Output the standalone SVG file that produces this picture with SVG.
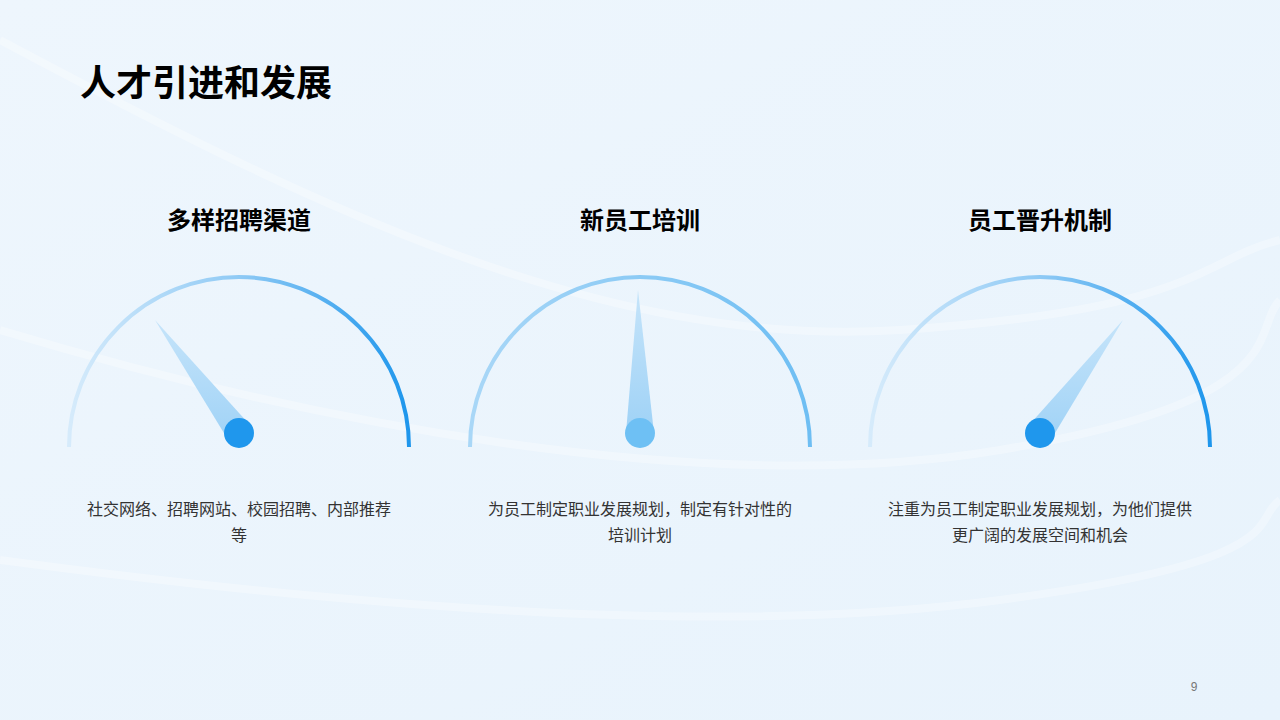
<svg xmlns="http://www.w3.org/2000/svg" width="1280" height="720" viewBox="0 0 1280 720">
<defs>
<linearGradient id="bg" x1="0" y1="0" x2="1" y2="1"><stop offset="0" stop-color="#eef6fd"/><stop offset="1" stop-color="#e8f3fc"/></linearGradient>
<linearGradient id="arc" x1="0" y1="0" x2="1" y2="0"><stop offset="0" stop-color="#d6ebfb"/><stop offset="0.5" stop-color="#8fcaf5"/><stop offset="1" stop-color="#1e96ec"/></linearGradient>
<linearGradient id="arc2" x1="0" y1="0" x2="1" y2="0"><stop offset="0" stop-color="#a9d7f7"/><stop offset="1" stop-color="#6ebef3"/></linearGradient>
<linearGradient id="ndl" x1="0" y1="0" x2="0" y2="1"><stop offset="0" stop-color="#c5e4fa"/><stop offset="1" stop-color="#9fd2f6"/></linearGradient>
<style>
.t{font-family:"Noto Sans CJK SC","Noto Sans",sans-serif;fill:#000}
.h{font-size:24px;font-weight:bold;text-anchor:middle}
.d{font-size:16px;fill:#333;text-anchor:middle}
.a{fill:none;stroke-width:4}
.w{fill:none;stroke:#ffffff;stroke-opacity:.3;stroke-width:8}
</style>
</defs>
<rect width="1280" height="720" fill="url(#bg)"/>
<path class="w" d="M0 40 C300 200 600 350 900 330 S1200 260 1280 240"/>
<path class="w" d="M0 330 C300 420 700 500 1000 450 S1250 330 1280 300"/>
<path class="w" d="M0 560 C300 600 700 640 1000 600 S1250 520 1280 500"/>
<text class="t" x="80" y="96" font-size="36" font-weight="bold">人才引进和发展</text>
<g id="node1">
<text class="t h" x="239" y="229">多样招聘渠道</text>
<path class="a" stroke="url(#arc)" d="M69 447 A170 170 0 0 1 409 447"/>
<polygon points="155,320 230,443 249,424" fill="url(#ndl)"/>
<circle cx="239" cy="433" r="15" fill="#1f97ed"/>
<text class="t d" x="239" y="515">社交网络、招聘网站、校园招聘、内部推荐</text>
<text class="t d" x="239" y="541">等</text>
</g>
<g id="node2">
<text class="t h" x="640" y="229">新员工培训</text>
<path class="a" stroke="url(#arc2)" d="M470 447 A170 170 0 0 1 810 447"/>
<polygon points="638,290 626,433 654,433" fill="url(#ndl)"/>
<circle cx="640" cy="433" r="15" fill="#6ec0f4"/>
<text class="t d" x="640" y="515">为员工制定职业发展规划，制定有针对性的</text>
<text class="t d" x="640" y="541">培训计划</text>
</g>
<g id="node3">
<text class="t h" x="1040" y="229">员工晋升机制</text>
<path class="a" stroke="url(#arc)" d="M870 447 A170 170 0 0 1 1210 447"/>
<polygon points="1123,320 1030,424 1049,443" fill="url(#ndl)"/>
<circle cx="1040" cy="433" r="15" fill="#1f97ed"/>
<text class="t d" x="1040" y="515">注重为员工制定职业发展规划，为他们提供</text>
<text class="t d" x="1040" y="541">更广阔的发展空间和机会</text>
</g>
<g id="connectors"/>
<text x="1194" y="691" font-family="Liberation Sans,sans-serif" font-size="12" fill="#777" text-anchor="middle">9</text>
</svg>
